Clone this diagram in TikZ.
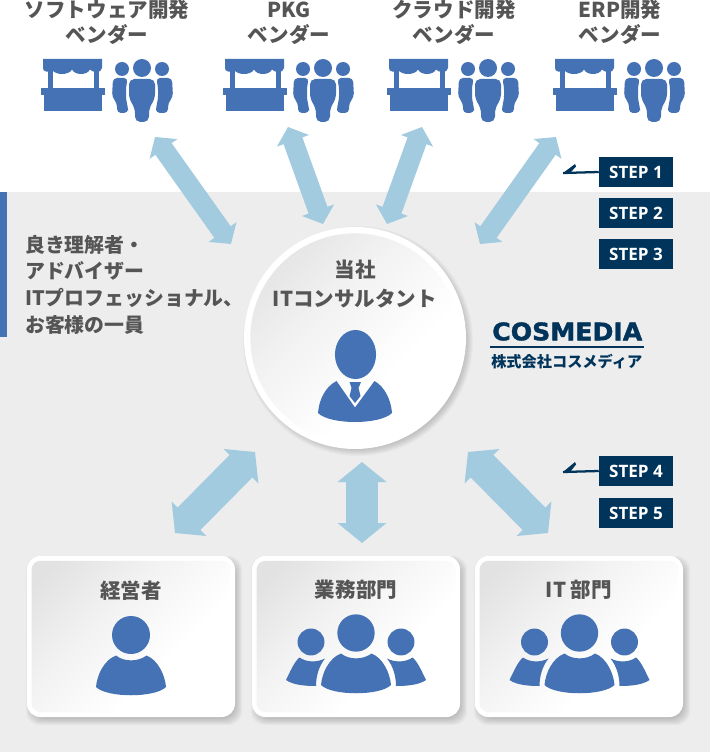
\documentclass[tikz,border=0pt]{standalone}
\usepackage{fontspec}
\usepackage{graphicx}
\setmainfont{Noto Sans CJK JP}
\newfontfamily\stepfont{Open Sans}
\newfontfamily\logofont[BoldFeatures={FakeBold=1.5}]{DejaVu Sans}
\usetikzlibrary{arrows.meta,calc}
\definecolor{iconblue}{HTML}{4472B4}
\definecolor{arrowblue}{HTML}{A2CBDF}
\definecolor{navy}{HTML}{00345A}
\definecolor{pagegray}{HTML}{EDEDED}
\definecolor{labelgray}{HTML}{555555}
\definecolor{shadegray}{HTML}{E2E2E2}
\definecolor{midgray}{HTML}{F2F2F2}
\pgfdeclareverticalshading{softdiag}{100bp}{color(0bp)=(white); color(38bp)=(white); color(60bp)=(midgray); color(80bp)=(shadegray); color(100bp)=(shadegray)}
\tikzset{
  stall/.pic={
    \fill[iconblue] (43,59) -- (102,59) -- (102,68) .. controls (102,71) and (99,72) .. (96,72)
      .. controls (94,72) and (91,71) .. (90,69.5) .. controls (87,75.5) and (75,75.5) .. (72,69.5)
      .. controls (69,75.5) and (55,75.5) .. (52,69.5) .. controls (50,72) and (47,72) .. (46,71.5)
      .. controls (44,71) and (43,70) .. (43,68) -- cycle;
    \fill[iconblue] (48,68) rectangle (53,90);
    \fill[iconblue] (94,68) rectangle (98.5,90);
    \fill[iconblue] (41,88) rectangle (105,95);
    \fill[iconblue] (44,95) rectangle (102,111);
  },
  staff/.pic={
    \fill[iconblue] (142,68) circle[radius=6.75pt];
    \fill[iconblue] (122,69) circle[radius=5.25pt];
    \fill[iconblue] (162,69) circle[radius=5.25pt];
    \fill[iconblue,rounded corners=4pt] (129,79) -- (155,79) -- (155,99) -- (149,108) -- (149,122) -- (135,122) -- (135,108) -- (129,99) -- cycle;
    \fill[iconblue,rounded corners=3pt] (128,78) -- (113,78) -- (112,97) -- (117,103) -- (117,113) -- (128,113) -- (128,107) -- (126,100) -- (126,86) -- cycle;
    \fill[iconblue,rounded corners=3pt] (156,78) -- (172,78) -- (173,97) -- (168,103) -- (168,113) -- (156,113) -- (156,107) -- (158,100) -- (158,86) -- cycle;
  },
  solo/.pic={
    \fill[iconblue] (131,635) circle[radius=14.25pt];
    \fill[iconblue] (116,655.5) .. controls (124,662) and (138,662) .. (146.5,655.5)
      .. controls (158,660) and (165,675) .. (166,687) .. controls (155,698) and (107,698) .. (96,687)
      .. controls (97,675) and (104,660) .. (116,655.5) -- cycle;
  },
  crowd/.pic={
    \fill[iconblue] (356,633) circle[radius=14pt];
    \fill[iconblue] (311,642) circle[radius=10.1pt];
    \fill[iconblue] (401,642) circle[radius=10.1pt];
    \fill[iconblue] (341,653.5) .. controls (349,660) and (363,660) .. (371.5,653.5)
      .. controls (383,658) and (390,673) .. (391,685) .. controls (380,696) and (332,696) .. (321,685)
      .. controls (322,673) and (329,658) .. (341,653.5) -- cycle;
    \fill[iconblue] (286,680) .. controls (290,672) and (294,662) .. (299.5,657.5)
      .. controls (306,662) and (316,663) .. (325,658.5) .. controls (319,666) and (316,676) .. (316,686)
      .. controls (305,686) and (293,685) .. (286,680) -- cycle;
    \fill[iconblue] (426,680) .. controls (422,672) and (418,662) .. (412.5,657.5)
      .. controls (406,662) and (396,663) .. (387,658.5) .. controls (393,666) and (396,676) .. (396,686)
      .. controls (407,686) and (419,685) .. (426,680) -- cycle;
  },
  title/.style={font=\fontsize{15.4}{15.4}\selectfont\bfseries,text=labelgray,inner sep=0pt,align=center},
  sidetext/.style={font=\fontsize{14.9}{14.9}\selectfont\bfseries,text=labelgray,inner sep=0pt,anchor=west},
  stepbox/.style={fill=navy,text=white,font=\stepfont\fontsize{12.8}{12.8}\selectfont\bfseries,minimum width=55.5pt,minimum height=22.5pt,inner sep=0pt},
  steplink/.style={draw=navy,line width=1.7pt},
  slimarrow/.style={draw=arrowblue,line width=15pt,{Triangle[length=11pt,width=25pt]}-{Triangle[length=11pt,width=25pt]}},
  wideshaft/.style={draw=arrowblue,line width=24pt,{Triangle[length=15pt,width=36pt]}-{Triangle[length=15pt,width=36pt]}},
  cardouter/.style={fill=white,rounded corners=10pt,minimum width=156pt,minimum height=120.75pt,inner sep=0pt},
  cardinner/.style={shading=softdiag,shading angle=45,rounded corners=6.5pt,minimum width=149pt,minimum height=113.5pt,inner sep=0pt},
}
\newcommand{\cardshadow}[2]{%
  \foreach \e in {-3,...,4}{
    \fill[black,opacity=.026,rounded corners=10pt] ($(#1,#2)+(-104+3-\e,-80.5+4-\e)$) rectangle ($(#1,#2)+(104+3+\e,80.5+4+\e)$);
  }%
}
\begin{document}
\begin{tikzpicture}[x=0.75pt,y=-0.75pt]
\useasboundingbox (0,0) rectangle (710,752);
\fill[white] (0,0) rectangle (710,192);
\fill[pagegray] (0,192) rectangle (710,752);
\fill[iconblue] (0,192) rectangle (7,337);

% vendor headings
\node[title] (v1a) at (107,10) {ソフトウェア開発};
\node[title] (v1b) at (107,35) {ベンダー};
\node[title] (v2a) at (289,10) {PKG};
\node[title] (v2b) at (289,35) {ベンダー};
\node[title] (v3a) at (454,10) {クラウド開発};
\node[title] (v3b) at (454,35) {ベンダー};
\node[title] (v4a) at (620,10) {ERP開発};
\node[title] (v4b) at (620,35) {ベンダー};

% vendor icons
\pic at (0,0) {stall};   \pic at (0,0) {staff};
\pic at (182,0) {stall}; \pic at (181,0) {staff};
\pic at (346,0) {stall}; \pic at (346,0) {staff};
\pic at (512,0) {stall}; \pic at (512,0) {staff};

% side text
\node[sidetext] (s1) at (25,244.5) {良き理解者・};
\node[sidetext] (s2) at (25,271) {アドバイザー};
\node[sidetext] (s3) at (25,297.5) {ITプロフェッショナル、};
\node[sidetext] (s4) at (25,325) {お客様の一員};

% arrows
\coordinate (a1s) at (155,137); \coordinate (a1e) at (231,244);
\coordinate (a2s) at (288,127); \coordinate (a2e) at (323,224);
\coordinate (a3s) at (422,127); \coordinate (a3e) at (387,224);
\coordinate (a4s) at (556,137); \coordinate (a4e) at (480,244);
\coordinate (b1s) at (255,452); \coordinate (b1e) at (175,533);
\coordinate (b2s) at (362,462); \coordinate (b2e) at (362,543);
\coordinate (b3s) at (468,452); \coordinate (b3e) at (548,533);
\draw[slimarrow] (a1s) -- (a1e);
\draw[slimarrow] (a2s) -- (a2e);
\draw[slimarrow] (a3s) -- (a3e);
\draw[slimarrow] (a4s) -- (a4e);
\draw[wideshaft] (b1s) -- (b1e);
\draw[wideshaft] (b2s) -- (b2e);
\draw[wideshaft] (b3s) -- (b3e);

% central circle
\foreach \e in {-3,...,4}{
  \fill[black,opacity=.024] (358,341) circle[radius=83.25pt+\e*0.75pt];
}
\node[circle,fill=white,minimum size=166.5pt,inner sep=0pt] (hub) at (355,338) {};
\node[circle,shading=softdiag,shading angle=45,minimum size=157pt,inner sep=0pt] (hubin) at (355,338) {};
\node[title] (h1) at (355,270) {当社};
\node[title] (h2) at (355,299) {ITコンサルタント};
\fill[iconblue] (355.5,354.5) ellipse[x radius=15.4pt,y radius=18.4pt];
\fill[iconblue] (336.5,381) -- (355,407.5) -- (374.5,381) .. controls (385,387) and (391,400) .. (392,413)
  .. controls (380,425) and (330,425) .. (318,413) .. controls (319,400) and (325,387) .. (336.5,381) -- cycle;
\fill[iconblue] (349.5,382) -- (361,382) -- (358.5,388) -- (360.5,396) -- (355,403) -- (349.5,396) -- (351.5,388) -- cycle;

% logo
\node[inner sep=0pt,anchor=west,text=navy] (logo) at (492,331.5) {\resizebox{112.5pt}{13.5pt}{\logofont\bfseries COSMEDIA}};
\coordinate (r1) at (490,347); \coordinate (r2) at (644,347);
\draw[navy,line width=1pt] (r1) -- (r2);
\node[inner sep=0pt,anchor=west,text=navy,font=\fontsize{11.4}{11.4}\selectfont\bfseries] (logosub) at (491,362) {株式会社コスメディア};

% steps
\node[stepbox] (st1) at (636,172) {STEP 1};
\node[stepbox] (st2) at (636,213) {STEP 2};
\node[stepbox] (st3) at (636,254) {STEP 3};
\node[stepbox] (st4) at (636,471) {STEP 4};
\node[stepbox] (st5) at (636,513) {STEP 5};
\coordinate (k1) at (563,173); \coordinate (k1t) at (575,164); \coordinate (k1u) at (576,166.5); \coordinate (k1v) at (570,173);
\coordinate (k4) at (563,472); \coordinate (k4t) at (575,462); \coordinate (k4u) at (576,464.5); \coordinate (k4v) at (570,472);
\draw[steplink] (st1.west) -- (k1);
\draw[steplink] (st4.west) -- (k4);
\fill[navy] (k1) -- (k1t) -- (k1u) -- (k1v) -- cycle;
\fill[navy] (k4) -- (k4t) -- (k4u) -- (k4v) -- cycle;

% cards
\cardshadow{131}{636.5}
\cardshadow{356}{636.5}
\cardshadow{579}{636.5}
\node[cardouter] (c1) at (131,636.5) {};
\node[cardouter] (c2) at (356,636.5) {};
\node[cardouter] (c3) at (579,636.5) {};
\node[cardinner] (c1i) at (131,636.5) {};
\node[cardinner] (c2i) at (356,636.5) {};
\node[cardinner] (c3i) at (579,636.5) {};
\node[title] (c1t) at (131,591) {経営者};
\node[title] (c2t) at (356,590) {業務部門};
\node[title] (c3t) at (579,590) {IT 部門};
\pic at (0,0) {solo};
\pic at (0,0) {crowd};
\pic at (223.5,0) {crowd};
\end{tikzpicture}
\end{document}
